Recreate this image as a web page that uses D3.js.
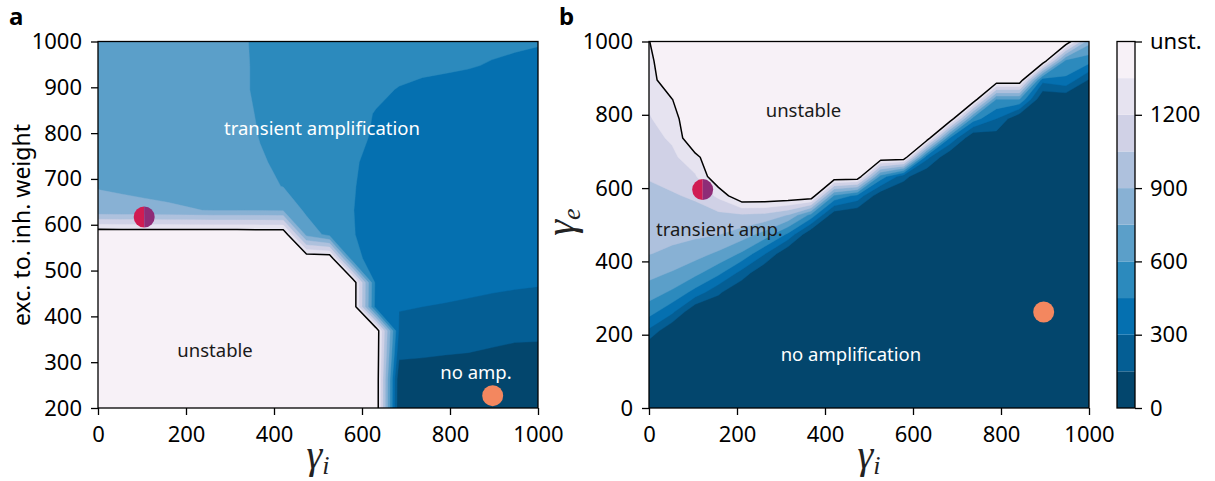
<!DOCTYPE html>
<html>
<head>
<meta charset="utf-8">
<script src="https://cdn.jsdelivr.net/npm/d3@7"></script>
<style>
  body { margin: 0; background: #fff; }
  text { font-family: "Noto Sans", sans-serif; }
  text.math { font-family: "Liberation Serif", "DejaVu Serif", serif; font-style: italic; }
</style>
</head>
<body>
<div id="chart"></div>
<script>
// grid of gamma_i values (columns), shared by both panels
const gammaI = [0, 52.6, 105.3, 157.9, 210.5, 263.2, 315.8, 368.4, 421.1, 473.7,
                526.3, 578.9, 631.6, 684.2, 736.8, 789.5, 842.1, 894.7, 947.4, 1000];
// rows of panel a (exc. to inh. weight) and panel b (gamma_e)
const weightA = [0, 52.6, 105.3, 157.9, 210.5, 263.2, 315.8, 368.4, 421.1, 473.7,
                 526.3, 578.9, 631.6, 684.2, 736.8, 789.5, 842.1, 894.7, 947.4, 1000];
const gammaE = [0, 52.6, 105.3, 157.9, 210.5, 263.2, 315.8, 368.4, 421.1, 473.7,
                526.3, 578.9, 631.6, 684.2, 736.8, 789.5, 842.1, 894.7, 947.4, 1000];

const UNST = 1500; // code for unstable networks (top of colour scale)

// amplification, panel a: one row per weight value (bottom to top)
const ampA = [
  [1500,1500,1500,1500,1500,1500,1500,1500,1500,1500,1500,1500,1500,20,20,20,20,20,20,20],
  [1500,1500,1500,1500,1500,1500,1500,1500,1500,1500,1500,1500,1500,20,20,20,20,20,20,20],
  [1500,1500,1500,1500,1500,1500,1500,1500,1500,1500,1500,1500,1500,20,20,20,20,20,20,20],
  [1500,1500,1500,1500,1500,1500,1500,1500,1500,1500,1500,1500,1500,20,20,20,20,20,20,20],
  [1500,1500,1500,1500,1500,1500,1500,1500,1500,1500,1500,1500,1500,20,20,20,20,20,20,20],
  [1500,1500,1500,1500,1500,1500,1500,1500,1500,1500,1500,1500,1500,30,40,50,55,50,40,30],
  [1500,1500,1500,1500,1500,1500,1500,1500,1500,1500,1500,1500,1500,180,165,150,140,110,60,50],
  [1500,1500,1500,1500,1500,1500,1500,1500,1500,1500,1500,1500,1500,280,265,255,245,240,235,230],
  [1500,1500,1500,1500,1500,1500,1500,1500,1500,1500,1500,1500,380,305,300,295,290,285,280,275],
  [1500,1500,1500,1500,1500,1500,1500,1500,1500,1500,1500,1500,400,350,335,325,318,312,308,305],
  [1500,1500,1500,1500,1500,1500,1500,1500,1500,1500,1500,480,410,370,355,345,340,335,330,325],
  [1500,1500,1500,1500,1500,1500,1500,1500,1500,700,550,455,410,380,370,360,355,350,345,340],
  [780,775,770,765,755,745,745,740,735,570,540,452,415,385,375,370,365,360,355,350],
  [745,738,730,720,710,695,670,640,595,560,535,455,420,390,380,375,370,365,360,355],
  [720,718,712,705,695,675,645,610,580,555,530,460,425,400,390,385,380,375,370,365],
  [705,702,698,692,682,665,640,597,575,555,530,470,440,410,400,395,390,385,380,375],
  [700,698,693,686,676,660,630,590,572,560,540,480,445,420,410,405,400,395,390,385],
  [697,695,690,682,672,655,615,588,572,560,545,500,470,445,430,425,420,415,410,405],
  [693,690,686,679,669,652,615,588,572,560,548,530,510,480,470,462,455,445,438,432],
  [690,685,680,675,665,650,615,585,570,555,540,525,510,495,485,478,472,466,460,455]
];

// amplification, panel b: one row per gamma_e value (bottom to top)
const ampB = [
  [0,0,0,0,0,0,0,0,0,0,0,0,0,0,0,0,0,0,0,0],
  [0,0,0,0,0,0,0,0,0,0,0,0,0,0,0,0,0,0,0,0],
  [0,0,0,0,0,0,0,0,0,0,0,0,0,0,0,0,0,0,0,0],
  [0,0,0,0,0,0,0,0,0,0,0,0,0,0,0,0,0,0,0,0],
  [270,0,0,0,0,0,0,0,0,0,0,0,0,0,0,0,0,0,0,0],
  [515,339,0,0,0,0,0,0,0,0,0,0,0,0,0,0,0,0,0,0],
  [673,576,395,177,0,0,0,0,0,0,0,0,0,0,0,0,0,0,0,0],
  [799,736,641,487,243,0,0,0,0,0,0,0,0,0,0,0,0,0,0,0],
  [905,870,809,722,577,309,0,0,0,0,0,0,0,0,0,0,0,0,0,0],
  [943,938,928,905,830,689,419,0,0,0,0,0,0,0,0,0,0,0,0,0],
  [981,987,995,1011,1027,1010,894,550,42,0,0,0,0,0,0,0,0,0,0,0],
  [1019,1036,1071,1233,1500,1500,1500,1500,574,400,34,0,0,0,0,0,0,0,0,0],
  [1059,1097,1182,1500,1500,1500,1500,1500,1500,1500,538,200,0,0,0,0,0,0,0,0],
  [1101,1162,1310,1500,1500,1500,1500,1500,1500,1500,1500,1500,346,0,0,0,0,0,0,0],
  [1144,1225,1500,1500,1500,1500,1500,1500,1500,1500,1500,1500,1500,440,0,64,0,0,0,0],
  [1187,1286,1500,1500,1500,1500,1500,1500,1500,1500,1500,1500,1500,1500,526,300,0,0,0,0],
  [1228,1347,1500,1500,1500,1500,1500,1500,1500,1500,1500,1500,1500,1500,1500,596,596,0,11,40],
  [1269,1500,1500,1500,1500,1500,1500,1500,1500,1500,1500,1500,1500,1500,1500,1500,1500,350,420,134],
  [1309,1500,1500,1500,1500,1500,1500,1500,1500,1500,1500,1500,1500,1500,1500,1500,1500,1500,560,508],
  [1345,1500,1500,1500,1500,1500,1500,1500,1500,1500,1500,1500,1500,1500,1500,1500,1500,1500,1500,800]
];

const levels = [0, 150, 300, 450, 600, 750, 900, 1050, 1200, 1350, 1500];
const xTicks = [0, 200, 400, 600, 800, 1000];
const yTicksA = [200, 300, 400, 500, 600, 700, 800, 900, 1000];
const yTicksB = [0, 200, 400, 600, 800, 1000];
const cbTicks = [0, 300, 600, 900, 1200, 1500];
const cbTickLabels = ["0", "300", "600", "900", "1200", "unst."];

// example networks marked in both panels
const markersA = [{ x: 105, y: 617, kind: "split" }, { x: 897, y: 227, kind: "plain" }];
const markersB = [{ x: 122, y: 596, kind: "split" }, { x: 897, y: 262, kind: "plain" }];

// PuBu reversed, sampled at the middle of each layer like matplotlib contourf
const pubu = ["#fff7fb", "#ece7f2", "#d0d1e6", "#a6bddb", "#74a9cf", "#3690c0", "#0570b0", "#045a8d", "#023858"];
const pubuI = d3.piecewise(d3.interpolateRgb, pubu);
const layerColors = d3.range(levels.length - 1)
  .map(i => pubuI(1 - (levels[i] + levels[i + 1]) / 2 / UNST));

const svg = d3.select("#chart").append("svg")
  .attr("width", 1215).attr("height", 481)
  .style("background", "#fff");
const defs = svg.append("defs");

const TICK = 7, FS_TICK = 22, FS_NOTE = 18.5;
const fmt = d3.format("d");

function mathLabel(sel, sym, sub) {
  sel.attr("class", "math").attr("fill", "#222");
  sel.append("tspan").attr("font-size", 40).text(sym);
  sel.append("tspan").attr("font-size", 26).attr("dy", 6).text(sub);
}

function drawPanel(p) {
  const x = d3.scaleLinear().domain([0, 1000]).range([p.left, p.right]);
  const y = d3.scaleLinear().domain(p.yDomain).range([p.bottom, p.top]);
  const n = p.gx.length, m = p.gy.length;
  // grid coordinates of d3.contours -> data values
  const gx = d3.scaleLinear().domain([0.5, n - 0.5]).range([p.gx[0], p.gx[n - 1]]);
  const gy = d3.scaleLinear().domain([0.5, m - 0.5]).range([p.gy[0], p.gy[m - 1]]);
  const path = d3.geoPath(d3.geoTransform({
    point(a, b) { this.stream.point(x(gx(a)), y(gy(b))); }
  }));

  defs.append("clipPath").attr("id", p.id)
    .append("rect")
    .attr("x", p.left).attr("y", p.top)
    .attr("width", p.right - p.left).attr("height", p.bottom - p.top);

  const bands = d3.contours().size([n, m])
    .thresholds(levels.slice(1, -1))(p.grid.flat());

  const g = svg.append("g").attr("clip-path", `url(#${p.id})`);
  g.append("rect")
    .attr("x", p.left).attr("y", p.top)
    .attr("width", p.right - p.left).attr("height", p.bottom - p.top)
    .attr("fill", layerColors[0]);
  g.selectAll("path.band")
    .data(bands)
    .join("path")
    .attr("class", "band")
    .attr("d", path)
    .attr("fill", (d, i) => layerColors[i + 1])
    .attr("stroke", (d, i) => layerColors[i + 1])
    .attr("stroke-width", 0.4);
  // stability border
  g.append("path")
    .attr("d", path(bands[bands.length - 1]))
    .attr("fill", "none")
    .attr("stroke", "#000")
    .attr("stroke-width", 1.5)
    .attr("stroke-linejoin", "round");

  // example networks
  const arc = d3.arc().innerRadius(0).outerRadius(10.5);
  p.markers.forEach(mk => {
    const mg = svg.append("g").attr("transform", `translate(${x(mk.x)},${y(mk.y)})`);
    if (mk.kind === "split") {
      mg.append("path").attr("d", arc({ startAngle: Math.PI, endAngle: 2 * Math.PI })).attr("fill", "#d01c52");
      mg.append("path").attr("d", arc({ startAngle: 0, endAngle: Math.PI })).attr("fill", "#8e2c77");
    } else {
      mg.append("circle").attr("r", 10.5).attr("fill", "#f3875f");
    }
  });

  // annotations
  p.notes.forEach(t => {
    svg.append("text")
      .attr("x", x(t.x)).attr("y", y(t.y))
      .attr("dy", "0.35em")
      .attr("text-anchor", "middle")
      .attr("font-size", FS_NOTE)
      .attr("fill", t.color)
      .text(t.text);
  });

  // axes
  const ax = svg.append("g")
    .attr("transform", `translate(0,${p.bottom})`)
    .call(d3.axisBottom(x).tickValues(xTicks).tickFormat(fmt).tickSize(TICK).tickPadding(11));
  const ay = svg.append("g")
    .attr("transform", `translate(${p.left},0)`)
    .call(d3.axisLeft(y).tickValues(p.yTicks).tickFormat(fmt).tickSize(TICK).tickPadding(9));
  [ax, ay].forEach(a => {
    a.select(".domain").remove();
    a.selectAll("line").attr("stroke", "#000").attr("stroke-width", 1.3);
    a.selectAll("text").attr("font-size", FS_TICK).attr("fill", "#000");
  });

  svg.append("rect")
    .attr("x", p.left).attr("y", p.top)
    .attr("width", p.right - p.left).attr("height", p.bottom - p.top)
    .attr("fill", "none").attr("stroke", "#000").attr("stroke-width", 1.3);

  // gamma_i axis label
  svg.append("text")
    .attr("x", (p.left + p.right) / 2).attr("y", 468)
    .attr("text-anchor", "middle")
    .call(mathLabel, "γ", "i");

  svg.append("text")
    .attr("x", p.letterX).attr("y", 25)
    .attr("font-size", 24).attr("font-weight", "bold")
    .text(p.letter);
}

drawPanel({
  id: "clipA", left: 98, right: 538, top: 41.5, bottom: 408,
  yDomain: [200, 1000], yTicks: yTicksA,
  gx: gammaI, gy: weightA, grid: ampA, markers: markersA, letter: "a", letterX: 9,
  notes: [
    { x: 509, y: 809, text: "transient amplification", color: "#fff" },
    { x: 266, y: 325, text: "unstable", color: "#1a1a1a" },
    { x: 859, y: 278, text: "no amp.", color: "#fff" }
  ]
});

drawPanel({
  id: "clipB", left: 649, right: 1089, top: 41.5, bottom: 408,
  yDomain: [0, 1000], yTicks: yTicksB,
  gx: gammaI, gy: gammaE, grid: ampB, markers: markersB, letter: "b", letterX: 559,
  notes: [
    { x: 351, y: 813, text: "unstable", color: "#1a1a1a" },
    { x: 160, y: 488, text: "transient amp.", color: "#1a1a1a" },
    { x: 459, y: 145, text: "no amplification", color: "#fff" }
  ]
});

// y labels
svg.append("text")
  .attr("transform", "translate(22,225) rotate(-90)")
  .attr("dy", "0.35em")
  .attr("text-anchor", "middle")
  .attr("font-size", 23)
  .text("exc. to. inh. weight");

svg.append("text")
  .attr("transform", "translate(574,222) rotate(-90)")
  .attr("text-anchor", "middle")
  .call(mathLabel, "γ", "e");

// colour bar
const cb = { left: 1117, right: 1135, top: 41.5, bottom: 408 };
const cbY = d3.scaleLinear().domain([0, UNST]).range([cb.bottom, cb.top]);
svg.append("g").selectAll("rect")
  .data(d3.range(levels.length - 1))
  .join("rect")
  .attr("x", cb.left).attr("width", cb.right - cb.left)
  .attr("y", i => cbY(levels[i + 1]))
  .attr("height", i => cbY(levels[i]) - cbY(levels[i + 1]))
  .attr("fill", i => layerColors[i]);
svg.append("rect")
  .attr("x", cb.left).attr("y", cb.top)
  .attr("width", cb.right - cb.left).attr("height", cb.bottom - cb.top)
  .attr("fill", "none").attr("stroke", "#000").attr("stroke-width", 1.3);
const cax = svg.append("g")
  .attr("transform", `translate(${cb.right},0)`)
  .call(d3.axisRight(cbY).tickValues(cbTicks).tickSize(TICK).tickPadding(8)
    .tickFormat((d, i) => cbTickLabels[i]));
cax.select(".domain").remove();
cax.selectAll("line").attr("stroke", "#000").attr("stroke-width", 1.3);
cax.selectAll("text").attr("font-size", FS_TICK).attr("fill", "#000");
</script>
</body>
</html>
